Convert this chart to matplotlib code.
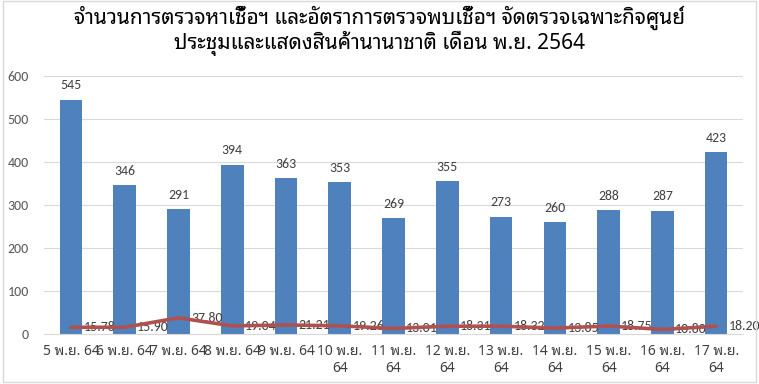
import matplotlib
matplotlib.use("Agg")
import matplotlib.pyplot as plt
from matplotlib.patches import Rectangle
import numpy as np

thai = ["Noto Sans Thai Looped", "DejaVu Sans"]
num = ["Carlito", "Lato", "DejaVu Sans"]

days = ["5", "6", "7", "8", "9", "10", "11", "12", "13", "14", "15", "16", "17"]
labels = [d + " พ.ย. 64" if int(d) < 10 else d + " พ.ย.\n64" for d in days]
tests = [545, 346, 291, 394, 363, 353, 269, 355, 273, 260, 288, 287, 423]
rate = [15.78, 15.90, 37.80, 19.04, 21.21, 19.26, 13.01, 18.31, 18.32, 13.85, 18.75, 10.80, 18.20]

title = ("จำนวนการตรวจหาเชื้อฯ และอัตราการตรวจพบเชื้อฯ จัดตรวจเฉพาะกิจศูนย์\n"
         "ประชุมและแสดงสินค้านานาชาติ เดือน พ.ย. 2564")

fig = plt.figure(figsize=(7.59, 3.84), dpi=100)
ax = fig.add_axes([0.058, 0.130, 0.921, 0.672])

x = np.arange(len(days))
ax.bar(x, tests, width=0.42, color="#4F81BD", zorder=2)
ax.plot(x, rate, color="#B0504F", lw=2.6, zorder=4, solid_capstyle="round")

for xi, v in zip(x, tests):
    ax.annotate(str(v), (xi, v), xytext=(0, 6), textcoords="offset points",
                ha="center", va="bottom", fontsize=10, color="#404040", family=num)
for xi, v in zip(x, rate):
    ax.annotate(f"{v:.2f}", (xi, v), xytext=(9, 0), textcoords="offset points",
                ha="left", va="center", fontsize=10, color="#404040", family=num, zorder=3)

ax.set_xlim(-0.5, len(days) - 0.5)
ax.set_ylim(0, 600)
ax.set_yticks(range(0, 601, 100))
ax.set_xticks(x)
ax.set_xticklabels(labels, family=thai, fontsize=10, color="#404040", linespacing=1.2)
for t in ax.get_yticklabels():
    t.set_family(num)
    t.set_fontsize(10)
    t.set_color("#595959")
ax.tick_params(length=0)
ax.tick_params(axis="x", pad=7)
ax.tick_params(axis="y", pad=11)
ax.grid(axis="y", color="#D9D9D9", lw=0.8, zorder=0)
for s in ["top", "right", "left"]:
    ax.spines[s].set_visible(False)
ax.spines["bottom"].set_color("#D9D9D9")

fig.text(0.5, 0.985, title, ha="center", va="top", fontsize=15, family=thai,
         color="#000000", linespacing=1.05)

# chart frame
fig.patches.append(Rectangle((3 / 759, 2 / 384), 753 / 759, 381 / 384,
                             transform=fig.transFigure, fill=False,
                             edgecolor="#D9D9D9", lw=1))

fig.savefig("out.png", dpi=100)
